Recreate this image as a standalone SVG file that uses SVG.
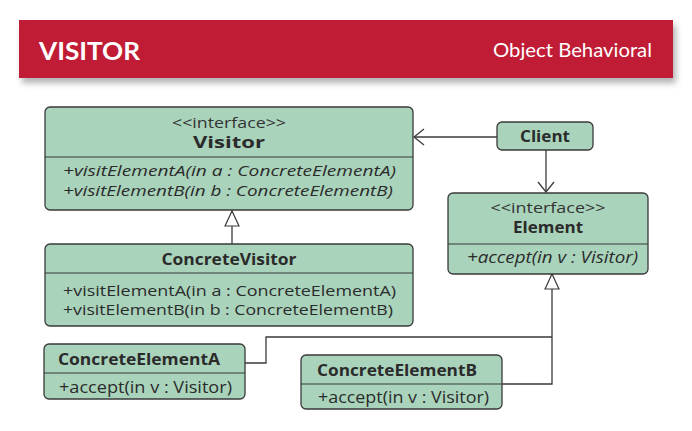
<svg xmlns="http://www.w3.org/2000/svg" width="692" height="431" viewBox="0 0 692 431">
<defs>
<filter id="sh" x="-5%" y="-20%" width="115%" height="160%">
<feDropShadow dx="3" dy="5" stdDeviation="3" flood-color="#000" flood-opacity="0.3"/>
</filter>
<marker id="open" markerWidth="12" markerHeight="18" refX="11" refY="9" orient="auto" markerUnits="userSpaceOnUse">
<path d="M1,1 L11,9 L1,17" fill="none" stroke="#3a3a3a" stroke-width="1.3"/>
</marker>
<marker id="tri" markerWidth="18" markerHeight="16" refX="16" refY="8" orient="auto" markerUnits="userSpaceOnUse">
<path d="M1,1 L16,8 L1,15 Z" fill="#fff" stroke="#3a3a3a" stroke-width="1.2"/>
</marker>
</defs>
<style>
.box{fill:#a9d3bb;stroke:#3a3a3a;stroke-width:1.3}
.div{stroke:#3a3a3a;stroke-width:1.2}
text{font-family:"Open Sans","Noto Sans","Liberation Sans",sans-serif;fill:#2b2b2b;font-size:16px}
.m{font-size:15px}
.b{font-weight:bold}
.i{font-style:italic}
.st{font-size:15px;fill:#333}
.c{text-anchor:middle}
.ln{fill:none;stroke:#3a3a3a;stroke-width:1.3}
.hd{font-family:Lato,"Open Sans",sans-serif;fill:#fff}
</style>
<rect width="692" height="431" fill="#fff"/>
<g id="header">
<rect x="19" y="20" width="654" height="58" fill="#c01f35" filter="url(#sh)"/>
<text x="39" y="60" class="hd b" textLength="101" lengthAdjust="spacingAndGlyphs" style="fill:#fff;font-size:25px">VISITOR</text>
<text x="493" y="57" class="hd" style="fill:#fff;font-size:19px" textLength="159" lengthAdjust="spacingAndGlyphs">Object Behavioral</text>
</g>
<g id="connectors">
<line x1="497" y1="137" x2="414" y2="137" class="ln" marker-end="url(#open)"/>
<line x1="546" y1="150" x2="546" y2="192" class="ln" marker-end="url(#open)"/>
<line x1="232" y1="244" x2="232" y2="211" class="ln" marker-end="url(#tri)"/>
<polyline points="245,363 266,363 266,337 552,337" class="ln"/>
<polyline points="502,384 552,384 552,274" class="ln" marker-end="url(#tri)"/>
</g>
<g id="Visitor">
<rect x="45" y="107" width="368" height="103" rx="5" class="box"/>
<line x1="45" y1="157" x2="413" y2="157" class="div"/>
<text x="229" y="128" class="c st" textLength="114" lengthAdjust="spacingAndGlyphs">&lt;&lt;interface&gt;&gt;</text>
<text x="229" y="148" class="c b" textLength="72" lengthAdjust="spacingAndGlyphs">Visitor</text>
<text x="63" y="176" class="i m" textLength="333" lengthAdjust="spacingAndGlyphs">+visitElementA(in a : ConcreteElementA)</text>
<text x="63" y="196" class="i m" textLength="330" lengthAdjust="spacingAndGlyphs">+visitElementB(in b : ConcreteElementB)</text>
</g>
<g id="Client">
<rect x="497" y="122" width="96" height="28" rx="5" class="box"/>
<text x="545" y="142" class="c b" textLength="50" lengthAdjust="spacingAndGlyphs">Client</text>
</g>
<g id="Element">
<rect x="448" y="193" width="200" height="81" rx="5" class="box"/>
<line x1="448" y1="244" x2="648" y2="244" class="div"/>
<text x="548" y="213" class="c st" textLength="115" lengthAdjust="spacingAndGlyphs">&lt;&lt;interface&gt;&gt;</text>
<text x="548" y="233" class="c b" textLength="70" lengthAdjust="spacingAndGlyphs">Element</text>
<text x="467" y="263" class="i" textLength="171" lengthAdjust="spacingAndGlyphs">+accept(in v : Visitor)</text>
</g>
<g id="ConcreteVisitor">
<rect x="45" y="244" width="368" height="82" rx="5" class="box"/>
<line x1="45" y1="273" x2="413" y2="273" class="div"/>
<text x="229" y="265" class="c b" textLength="135" lengthAdjust="spacingAndGlyphs">ConcreteVisitor</text>
<text x="63" y="296" class="m" textLength="333" lengthAdjust="spacingAndGlyphs">+visitElementA(in a : ConcreteElementA)</text>
<text x="63" y="315" class="m" textLength="330" lengthAdjust="spacingAndGlyphs">+visitElementB(in b : ConcreteElementB)</text>
</g>
<g id="ConcreteElementA">
<rect x="44" y="344" width="201" height="55" rx="5" class="box"/>
<line x1="44" y1="373" x2="245" y2="373" class="div"/>
<text x="58" y="365" class="b" textLength="162" lengthAdjust="spacingAndGlyphs">ConcreteElementA</text>
<text x="59" y="393" textLength="173" lengthAdjust="spacingAndGlyphs">+accept(in v : Visitor)</text>
</g>
<g id="ConcreteElementB">
<rect x="301" y="355" width="201" height="54" rx="5" class="box"/>
<line x1="301" y1="384" x2="502" y2="384" class="div"/>
<text x="317" y="376" class="b" textLength="160" lengthAdjust="spacingAndGlyphs">ConcreteElementB</text>
<text x="318" y="403" textLength="171" lengthAdjust="spacingAndGlyphs">+accept(in v : Visitor)</text>
</g>
</svg>
